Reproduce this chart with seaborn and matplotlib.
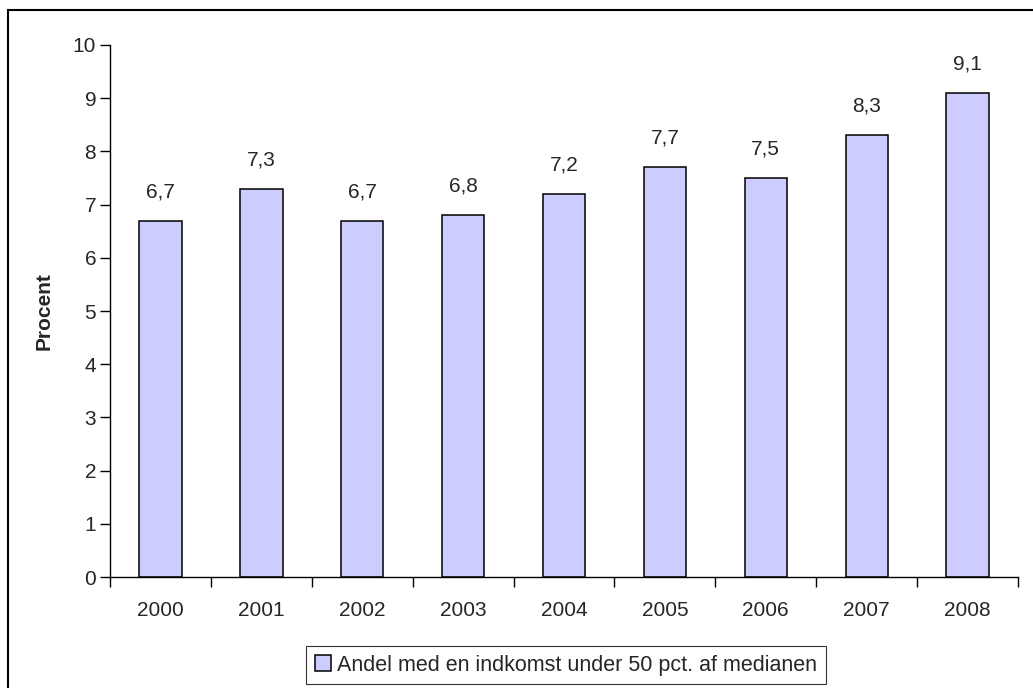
import pandas as pd
import matplotlib
matplotlib.use('Agg')
import matplotlib.pyplot as plt
import seaborn as sns
from matplotlib.patches import Rectangle

years = ['2000', '2001', '2002', '2003', '2004', '2005', '2006', '2007', '2008']
andel = [6.7, 7.3, 6.7, 6.8, 7.2, 7.7, 7.5, 8.3, 9.1]
series_label = 'Andel med en indkomst under 50 pct. af medianen'
yticks = list(range(0, 11))

sns.set_theme(style='white')
plt.rcParams['font.family'] = ['Liberation Sans', 'DejaVu Sans']

df = pd.DataFrame({'year': years, 'pct': andel})

fig = plt.figure(figsize=(10.33, 6.88), dpi=100)
ax = fig.add_axes([0.1065, 0.1613, 0.879, 0.7733])

sns.barplot(data=df, x='year', y='pct', ax=ax, color='#CCCCFF',
            edgecolor='black', linewidth=1.1, width=0.42, saturation=1,
            label=series_label)

# data labels with comma decimal
labels = [f'{v:.1f}'.replace('.', ',') for v in andel]
ax.bar_label(ax.containers[0], labels=labels, padding=14, fontsize=15)

ax.set_ylim(0, 10)
ax.set_xlim(-0.5, len(years) - 0.5)
ax.set_yticks(yticks)
ax.set_yticklabels([str(t) for t in yticks], fontsize=15)
ax.tick_params(axis='y', direction='out', length=7, width=1, color='black', pad=3, left=True)
ax.tick_params(axis='x', which='major', length=0, pad=17, labelsize=15)
ax.set_xticks([i - 0.5 for i in range(len(years) + 1)], minor=True)
ax.tick_params(axis='x', which='minor', direction='out', length=7, width=1, color='black', bottom=True)
ax.set_xlabel('')
ax.set_ylabel('Procent', fontsize=15, fontweight='bold', labelpad=14)

for side in ['top', 'right']:
    ax.spines[side].set_visible(False)
for side in ['left', 'bottom']:
    ax.spines[side].set_color('black')
    ax.spines[side].set_linewidth(1)

leg = ax.legend(loc='upper center', bbox_to_anchor=(0.548, 0.061),
                bbox_transform=fig.transFigure, frameon=True, fancybox=False,
                fontsize=15.5, handlelength=0.75, handleheight=0.75,
                handletextpad=0.3, borderpad=0.4, borderaxespad=0)
leg.get_frame().set_edgecolor('#000000')
leg.get_frame().set_linewidth(0.8)

# outer chart border
fig.patches.append(Rectangle((0.0077, -0.02), 1.1, 0.9855 + 0.02,
                             transform=fig.transFigure, fill=False,
                             edgecolor='black', linewidth=1.5))

fig.savefig('out.png', dpi=100)
